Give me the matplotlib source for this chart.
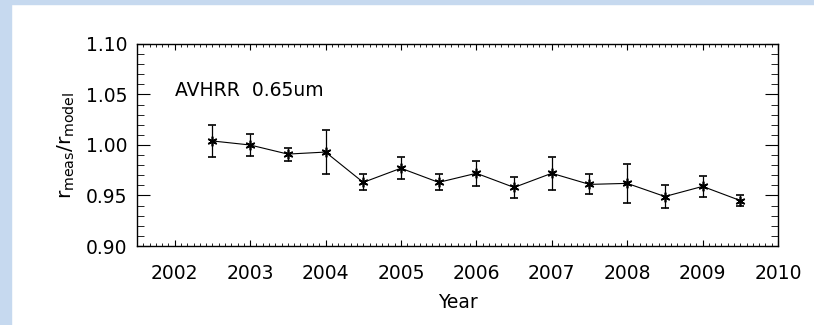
import matplotlib
matplotlib.use("Agg")
import matplotlib.pyplot as plt
from matplotlib.ticker import MultipleLocator
import matplotlib.patches as mpatches

years = [2002.5, 2003.0, 2003.5, 2004.0, 2004.5, 2005.0, 2005.5, 2006.0,
         2006.5, 2007.0, 2007.5, 2008.0, 2008.5, 2009.0, 2009.5]
ratio = [1.004, 1.000, 0.991, 0.993, 0.963, 0.977, 0.963, 0.972,
         0.958, 0.972, 0.961, 0.962, 0.949, 0.959, 0.945]
err = [0.016, 0.011, 0.0065, 0.022, 0.008, 0.011, 0.008, 0.0125,
       0.0105, 0.0165, 0.010, 0.0195, 0.011, 0.0105, 0.005]
xtick_labels = ["2002", "2003", "2004", "2005", "2006", "2007", "2008", "2009", "2010"]
ytick_values = [0.90, 0.95, 1.00, 1.05, 1.10]

plt.rcParams['font.family'] = ['DejaVu Sans']
plt.rcParams['mathtext.fontset'] = 'dejavusans'

fig = plt.figure(figsize=(8.14, 3.25), dpi=100)
fig.patch.set_facecolor('white')
# light blue frame on left and top
blue = '#C6D9EF'
fig.patches.append(mpatches.Rectangle((0, 0), 11/814, 1, transform=fig.transFigure,
                                      color=blue, zorder=0))
fig.patches.append(mpatches.Rectangle((0, 1 - 4/325), 1, 4/325, transform=fig.transFigure,
                                      color=blue, zorder=0))

ax = fig.add_axes([137/814, 1 - 246/325, (778 - 137)/814, (246 - 44)/325])
ax.errorbar(years, ratio, yerr=err, color='black', lw=0.8, elinewidth=0.9,
            capsize=3, capthick=0.9, marker=(6, 2, 0), ms=7, mew=1.2)

ax.set_xlim(2001.5, 2010)
ax.set_ylim(0.90, 1.10)
ax.set_xticks([int(t) for t in xtick_labels])
ax.set_xticklabels(xtick_labels)
ax.set_yticks(ytick_values)
ax.set_yticklabels([f"{v:.2f}" for v in ytick_values])
ax.xaxis.set_minor_locator(MultipleLocator(1/12))
ax.yaxis.set_minor_locator(MultipleLocator(0.01))

ax.tick_params(axis='both', which='both', direction='in', top=True, right=True,
               labelsize=13.5, colors='black')
ax.tick_params(axis='x', which='major', length=4, width=0.8, pad=13)
ax.tick_params(axis='x', which='minor', length=2, width=0.6)
ax.tick_params(axis='y', which='major', length=9.5, width=0.8, pad=7)
ax.tick_params(axis='y', which='minor', length=5, width=0.6)
for s in ax.spines.values():
    s.set_linewidth(1.0)

ax.set_xlabel('Year', fontsize=13.5, labelpad=7)
ax.set_ylabel(r'r$_{\mathrm{meas}}$/r$_{\mathrm{model}}$', fontsize=14.5, labelpad=6)
ax.text(0.059, 0.77, 'AVHRR  0.65um', transform=ax.transAxes, fontsize=13.5,
        ha='left', va='center')

fig.savefig('out.png', dpi=100)
